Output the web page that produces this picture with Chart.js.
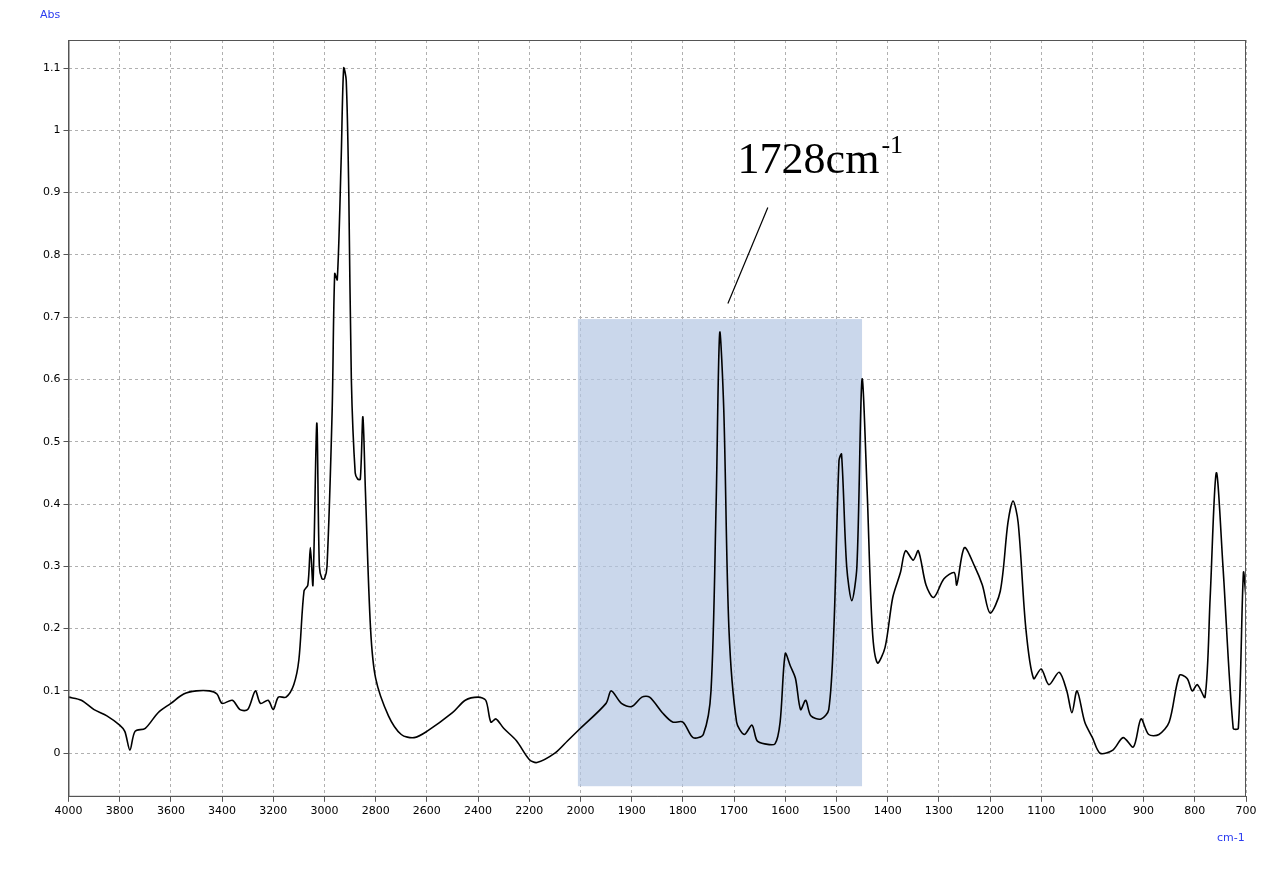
<!DOCTYPE html>
<html>
<head>
<meta charset="utf-8">
<script src="https://cdn.jsdelivr.net/npm/chart.js@4/dist/chart.umd.min.js"></script>
<style>
  body { margin: 0; background: #fff; }
  #wrap { position: relative; width: 1280px; height: 870px; }
</style>
</head>
<body>
<div id="wrap"><canvas id="irChart"></canvas></div>
<script>
// wavenumbers (cm-1) and absorbance
const wavenumbers = [4000,3950,3900,3850,3800,3780,3760,3740,3700,3650,3600,3550,3500,3450,3420,3400,3360,3330,3300,3270,3250,3220,3200,3180,3150,3120,3100,3080,3065,3055,3045,3030,3020,3010,3000,2990,2970,2960,2950,2935,2925,2915,2905,2895,2880,2870,2860,2850,2840,2820,2800,2750,2700,2650,2600,2500,2450,2400,2370,2350,2330,2300,2250,2200,2170,2100,2050,2000,1950,1940,1920,1900,1880,1865,1840,1820,1800,1780,1760,1745,1735,1728,1720,1710,1695,1680,1665,1655,1640,1620,1610,1600,1590,1580,1570,1560,1550,1530,1515,1505,1495,1490,1480,1470,1460,1450,1440,1430,1420,1405,1390,1375,1365,1350,1340,1325,1310,1290,1270,1265,1250,1230,1215,1200,1180,1165,1155,1145,1130,1115,1100,1085,1065,1050,1040,1030,1015,1000,985,960,940,920,905,890,870,850,830,815,805,795,780,770,758,745,725,715,705,700];
const absorbance = [0.09,0.085,0.07,0.06,0.045,0.035,0.005,0.035,0.04,0.065,0.08,0.095,0.10,0.10,0.095,0.08,0.085,0.07,0.07,0.10,0.08,0.085,0.07,0.09,0.09,0.11,0.15,0.26,0.27,0.33,0.27,0.53,0.30,0.28,0.28,0.30,0.55,0.77,0.76,0.95,1.10,1.08,0.90,0.60,0.45,0.44,0.44,0.54,0.42,0.20,0.12,0.06,0.03,0.025,0.035,0.065,0.085,0.09,0.085,0.05,0.055,0.04,0.02,-0.01,-0.015,0.0,0.02,0.04,0.08,0.10,0.08,0.075,0.09,0.09,0.065,0.05,0.05,0.025,0.03,0.10,0.40,0.675,0.55,0.20,0.05,0.03,0.045,0.02,0.015,0.015,0.05,0.16,0.14,0.12,0.07,0.085,0.06,0.055,0.07,0.20,0.47,0.48,0.30,0.245,0.30,0.60,0.42,0.20,0.145,0.17,0.25,0.29,0.325,0.31,0.325,0.27,0.25,0.28,0.29,0.27,0.33,0.30,0.27,0.225,0.26,0.37,0.405,0.37,0.20,0.12,0.135,0.11,0.13,0.10,0.065,0.10,0.05,0.025,0.0,0.005,0.025,0.01,0.055,0.03,0.03,0.05,0.125,0.12,0.10,0.11,0.09,0.25,0.45,0.30,0.04,0.04,0.29,0.25];
const yTicks = [0,0.1,0.2,0.3,0.4,0.5,0.6,0.7,0.8,0.9,1,1.1];
const highlightRange = [2010, 1450];   // shaded region (cm-1)
const highlightAbs = [-0.053, 0.697];
const peakLabel = '1728cm';

// spectrometer scale: half scale above 2000 cm-1
function toPos(w) { return w >= 2000 ? (4000 - w) / 2 : 1000 + (2000 - w); }
function toWave(p) { return p <= 1000 ? 4000 - p * 2 : 2000 - (p - 1000); }

const points = wavenumbers.map((w, i) => ({ x: toPos(w), y: absorbance[i] }));

const decor = {
  id: 'decor',
  beforeDatasetsDraw(chart) {
    const { ctx, scales: { x, y } } = chart;
    const x0 = x.getPixelForValue(toPos(highlightRange[0]));
    const x1 = x.getPixelForValue(toPos(highlightRange[1]));
    const y0 = y.getPixelForValue(highlightAbs[1]);
    const y1 = y.getPixelForValue(highlightAbs[0]);
    ctx.save();
    ctx.fillStyle = 'rgba(180,198,226,0.7)';
    ctx.fillRect(x0, y0, x1 - x0, y1 - y0);
    ctx.restore();
  },
  afterDatasetsDraw(chart) {
    const { ctx, chartArea: a, scales: { x, y } } = chart;
    ctx.save();
    // frame
    ctx.strokeStyle = '#555';
    ctx.lineWidth = 1;
    ctx.strokeRect(a.left + 0.5, a.top + 0.5, a.right - a.left - 1, a.bottom - a.top - 1);
    ctx.strokeStyle = '#000';
    ctx.lineWidth = 1.2;
    ctx.beginPath();
    ctx.moveTo(x.getPixelForValue(toPos(1634)), y.getPixelForValue(0.876));
    ctx.lineTo(x.getPixelForValue(toPos(1712)), y.getPixelForValue(0.722));
    ctx.stroke();
    ctx.fillStyle = '#000';
    ctx.font = '44px "Liberation Serif", serif';
    ctx.textBaseline = 'alphabetic';
    const tx = x.getPixelForValue(toPos(1693));
    const ty = y.getPixelForValue(0.932);
    ctx.fillText(peakLabel, tx, ty);
    const w = ctx.measureText(peakLabel).width;
    ctx.font = '26px "Liberation Serif", serif';
    ctx.fillText('-1', tx + w + 2, ty - 20);
    // axis unit labels
    ctx.font = '11px "DejaVu Sans", sans-serif';
    ctx.fillStyle = '#2b3cf0';
    ctx.fillText('Abs', 40, 18);
    ctx.fillText('cm-1', 1217, 841);
    ctx.restore();
  }
};

new Chart(document.getElementById('irChart'), {
  type: 'line',
  data: {
    datasets: [{
      data: points,
      borderColor: '#000',
      borderWidth: 1.6,
      pointRadius: 0,
      tension: 0.3,
      fill: false
    }]
  },
  options: {
    responsive: true,
    maintainAspectRatio: false,
    animation: false,
    layout: { padding: { top: 40, right: 34, bottom: 49, left: 40 } },
    plugins: { legend: { display: false }, tooltip: { enabled: false } },
    scales: {
      x: {
        type: 'linear',
        min: 0, max: 2300,
        ticks: {
          stepSize: 100,
          color: '#000',
          font: { size: 11, family: 'DejaVu Sans' },
          maxRotation: 0,
          callback: (v) => String(toWave(v))
        },
        grid: { color: '#b0b0b0', tickLength: 5, tickColor: '#555' },
        border: { color: '#555', dash: [3, 3] }
      },
      y: {
        min: -0.07, max: 1.145,
        afterBuildTicks: (axis) => { axis.ticks = yTicks.map(v => ({ value: v })); },
        ticks: {
          color: '#000',
          font: { size: 11, family: 'DejaVu Sans' },
          callback: (v) => String(Math.round(v * 10) / 10)
        },
        grid: { color: '#b0b0b0', tickLength: 5, tickColor: '#555' },
        border: { color: '#555', dash: [3, 3] }
      }
    }
  },
  plugins: [decor]
});
</script>
</body>
</html>
